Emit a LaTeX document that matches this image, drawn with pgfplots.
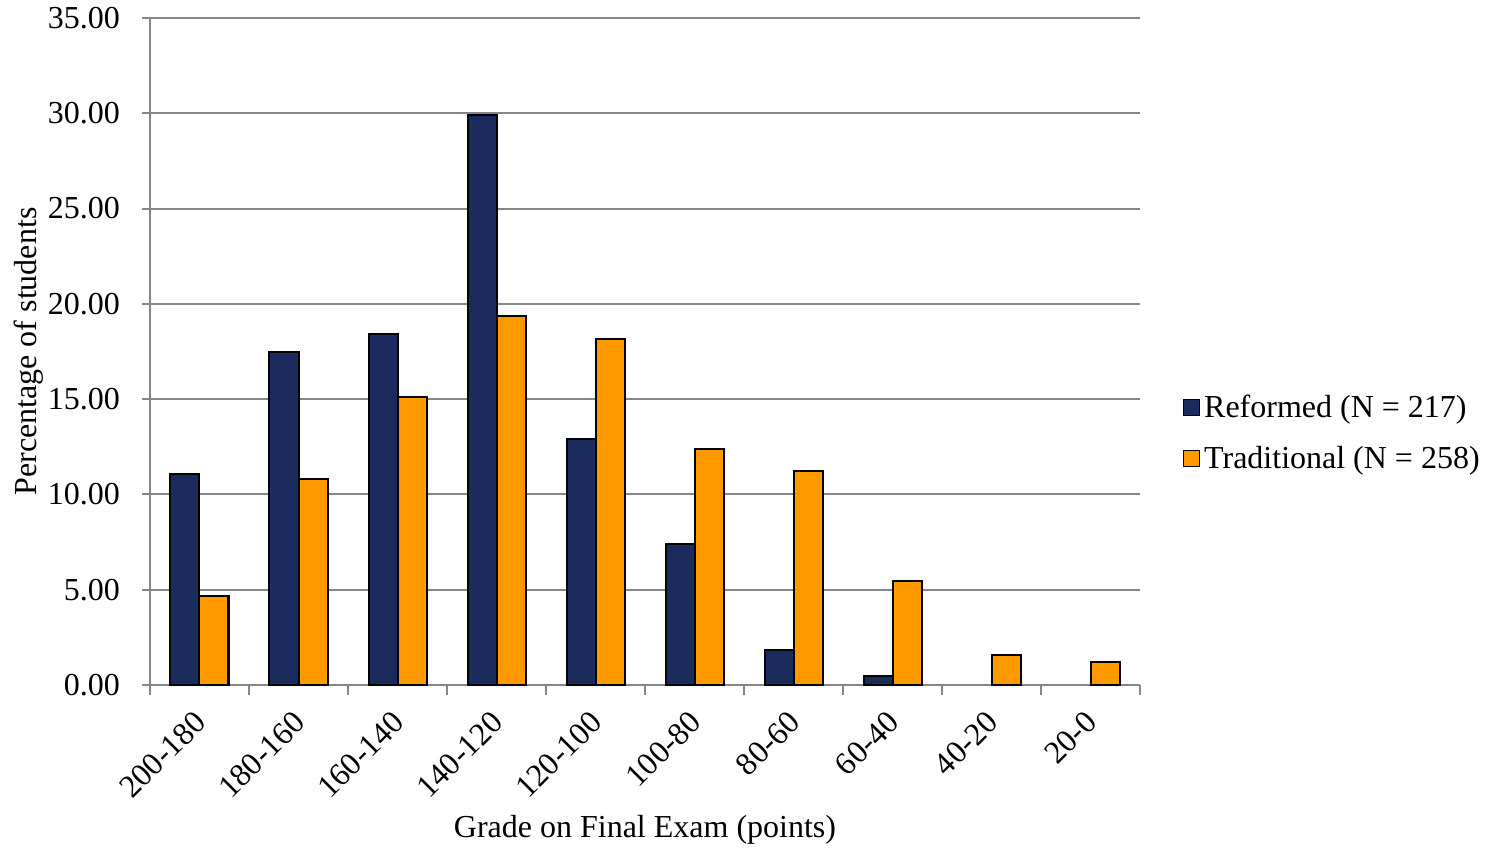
\documentclass[border=0pt]{standalone}
\usepackage{fontspec}
\setmainfont{Liberation Serif}
\usepackage{pgfplots}
\pgfplotsset{compat=1.18}
\definecolor{navy}{RGB}{28,43,94}
\definecolor{amber}{RGB}{255,153,0}
\definecolor{gridgray}{RGB}{134,134,134}

\begin{document}
\begin{tikzpicture}
\useasboundingbox (-75pt,-82.5pt) rectangle (673.5pt,342.5pt);
\begin{axis}[
  scale only axis, width=495pt, height=333.5pt,
  font=\fontsize{16}{19}\selectfont,
  ybar=0pt, bar width=14.5pt,
  ymin=0, ymax=35, ytick={0,5,...,35},
  xmin=-0.5, xmax=9.5,
  xtick={0,...,9},
  xticklabels={200-180,180-160,160-140,140-120,120-100,100-80,80-60,60-40,40-20,20-0},
  minor xtick={-0.5,0.5,...,9.5},
  major x tick style={draw=none},
  axis x line*=bottom, axis y line*=left,
  axis line style={gridgray, line width=1pt, -},
  tick style={gridgray, line width=1pt},
  tick align=outside,
  major tick length=4pt, minor tick length=5pt,
  ymajorgrids, grid style={gridgray, line width=1pt},
  /pgf/number format/assume math mode=true,
  yticklabel style={/pgf/number format/fixed, /pgf/number format/fixed zerofill,
    /pgf/number format/precision=2, xshift=-7.5pt},
  xticklabel style={rotate=45, anchor=east, xshift=-4.7pt, yshift=-8.8pt},
  ylabel={Percentage of students},
  ylabel style={at={(axis description cs:-0.1222,0.5)}, anchor=center},
  xlabel={Grade on Final Exam (points)},
  xlabel style={at={(axis description cs:0.5,-0.2174)}, anchor=center},
  legend style={draw=none, at={(1.043,0.378)}, anchor=west, row sep=9pt,
    font=\fontsize{16}{19}\selectfont, inner sep=0pt,
    nodes={inner sep=2pt}},
  legend cell align=left,
  legend image code/.code={\draw[#1, line width=0.6pt] (0pt,-4pt) rectangle (8pt,4pt);},
]
\addplot[fill=navy, draw=black, line width=1pt] coordinates {
  (0,11.07) (1,17.47) (2,18.42) (3,29.90) (4,12.90) (5,7.40) (6,1.84) (7,0.47)
};
\addplot[fill=amber, draw=black, line width=1pt] coordinates {
  (0,4.67) (1,10.81) (2,15.11) (3,19.36) (4,18.15) (5,12.38) (6,11.23) (7,5.46) (8,1.57) (9,1.21)
};
\legend{Reformed (N = 217), Traditional (N = 258)}
\end{axis}
\end{tikzpicture}
\end{document}
